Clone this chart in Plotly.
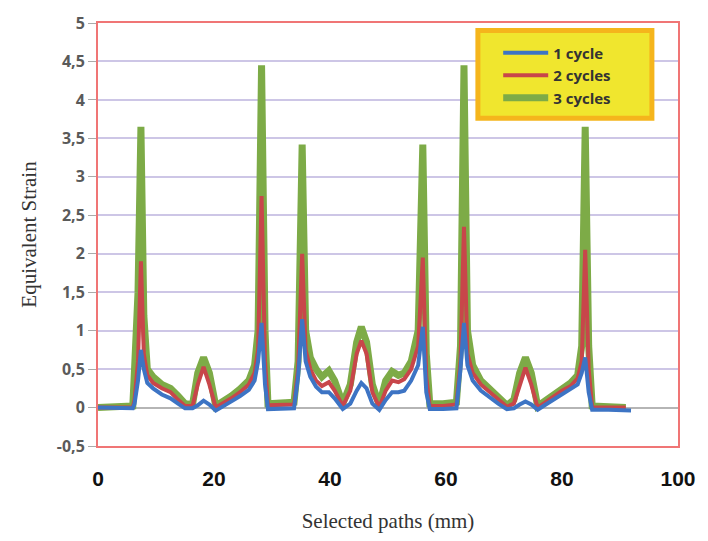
import plotly.graph_objects as go

# path position (mm)
x = [0.0, 5.6, 6.0, 6.3, 6.9, 7.4, 7.9, 8.5, 9.5, 11.0, 12.5, 13.8, 15.0, 16.3,
     17.2, 18.2, 19.2, 20.3, 21.5, 23.0, 24.5, 26.0, 27.0, 27.6, 28.2, 28.8,
     29.3, 31.5, 33.8, 34.5, 35.2, 35.8, 36.6, 37.6, 38.6, 39.8, 40.8, 42.2,
     43.5, 44.6, 45.4, 46.3, 47.3, 48.5, 49.6, 50.7, 51.8, 52.8, 54.0, 55.2,
     56.0, 56.6, 57.2, 59.5, 61.8, 62.5, 63.1, 63.7, 64.6, 66.0, 67.5, 69.0,
     70.5, 71.7, 72.7, 73.7, 74.7, 75.8, 77.0, 78.5, 80.0, 81.5, 82.7, 83.4,
     84.0, 84.6, 85.2, 88.0, 91.0, 91.9]

cycle3 = [0.0, 0.0, 0.02, 0.5, 1.5, 3.65, 1.2, 0.5, 0.4, 0.3, 0.25, 0.15, 0.05, 0.04,
          0.45, 0.65, 0.45, 0.02, 0.07, 0.15, 0.24, 0.35, 0.55, 1.0, 4.45, 1.0,
          0.05, 0.05, 0.07, 0.6, 3.42, 1.0, 0.65, 0.5, 0.4, 0.48, 0.35, 0.05,
          0.3, 0.85, 1.05, 0.85, 0.3, 0.03, 0.35, 0.47, 0.42, 0.45, 0.6, 1.0,
          3.42, 0.7, 0.05, 0.05, 0.07, 0.8, 4.45, 1.0, 0.55, 0.35, 0.25, 0.15,
          0.03, 0.1, 0.45, 0.65, 0.45, 0.02, 0.08, 0.17, 0.25, 0.32, 0.42, 0.8,
          3.65, 0.8, 0.02, 0.0, 0.0, None]

cycle2 = [0.0, 0.0, 0.0, 0.1, 0.6, 1.9, 0.7, 0.42, 0.32, 0.25, 0.2, 0.1, 0.02, 0.02,
          0.3, 0.53, 0.3, 0.0, 0.05, 0.12, 0.2, 0.3, 0.45, 0.75, 2.75, 0.6,
          0.03, 0.03, 0.04, 0.5, 2.0, 0.75, 0.5, 0.35, 0.28, 0.33, 0.22, 0.02,
          0.22, 0.7, 0.87, 0.7, 0.2, 0.0, 0.22, 0.35, 0.33, 0.37, 0.5, 0.8,
          1.95, 0.4, 0.02, 0.02, 0.04, 0.6, 2.35, 0.7, 0.45, 0.3, 0.2, 0.1,
          0.01, 0.05, 0.3, 0.52, 0.3, 0.0, 0.06, 0.14, 0.22, 0.28, 0.38, 0.6,
          2.05, 0.5, 0.0, 0.0, 0.0, None]

cycle1 = [0.0, -0.01, -0.01, 0.05, 0.35, 0.75, 0.5, 0.32, 0.25, 0.17, 0.12, 0.05, -0.01, -0.01,
          0.03, 0.09, 0.04, -0.04, 0.02, 0.08, 0.15, 0.23, 0.35, 0.6, 1.1, 0.3,
          -0.02, -0.02, -0.01, 0.4, 1.15, 0.6, 0.4, 0.27, 0.2, 0.2, 0.12, -0.02,
          0.05, 0.22, 0.32, 0.25, 0.05, -0.03, 0.1, 0.2, 0.2, 0.22, 0.35, 0.55,
          1.05, 0.2, -0.02, -0.02, -0.01, 0.5, 1.1, 0.55, 0.35, 0.22, 0.13, 0.05,
          -0.02, -0.01, 0.04, 0.08, 0.04, -0.03, 0.03, 0.1, 0.17, 0.23, 0.3, 0.45,
          0.65, 0.2, -0.03, -0.03, -0.04, -0.04]

y_tickvals = [-0.5, 0, 0.5, 1, 1.5, 2, 2.5, 3, 3.5, 4, 4.5, 5]
y_ticktext = ["-0,5", "0", "0,5", "1", "1,5", "2", "2,5", "3", "3,5", "4", "4,5", "5"]
x_tickvals = [0, 20, 40, 60, 80, 100]
x_ticktext = ["0", "20", "40", "60", "80", "100"]

fig = go.Figure()
fig.add_trace(go.Scatter(x=x, y=cycle3, mode="lines", name="3 cycles",
                         line=dict(color="#7dab47", width=7)))
fig.add_trace(go.Scatter(x=x, y=cycle2, mode="lines", name="2 cycles",
                         line=dict(color="#c8464a", width=4)))
fig.add_trace(go.Scatter(x=x, y=cycle1, mode="lines", name="1 cycle",
                         line=dict(color="#3d74c4", width=4)))

fig.update_layout(
    width=708, height=541,
    margin=dict(l=98, r=28, t=18, b=95),
    paper_bgcolor="white", plot_bgcolor="white",
    showlegend=True,
    legend=dict(x=0.69, y=0.968, xanchor="left", yanchor="top",
                bgcolor="rgba(0,0,0,0)", borderwidth=0,
                traceorder="reversed", itemwidth=45,
                font=dict(family="Open Sans", size=15, color="#333333", weight="bold"),
                tracegroupgap=0),
    shapes=[dict(type="rect", xref="paper", yref="paper",
                 x0=0.655, x1=0.955, y0=0.775, y1=0.982,
                 fillcolor="#f0e62e", line=dict(color="#f5b51c", width=5),
                 layer="above")],
    xaxis=dict(range=[0, 100], tickvals=x_tickvals, ticktext=x_ticktext,
               showgrid=False, zeroline=False,
               showline=True, mirror=True, linecolor="#f07575", linewidth=2,
               ticks="", ticklabelstandoff=13,
               tickfont=dict(family="Liberation Sans", size=21, color="#111111", weight="bold"),
               title=dict(text="Selected paths (mm)", standoff=24,
                          font=dict(family="Liberation Serif", size=21, color="#333333"))),
    yaxis=dict(range=[-0.5, 5], tickvals=y_tickvals, ticktext=y_ticktext,
               showgrid=True, gridcolor="#cdc6e6", gridwidth=1.5,
               zeroline=True, zerolinecolor="#b5b5b5", zerolinewidth=1.5,
               showline=True, mirror=True, linecolor="#f07575", linewidth=2,
               ticks="outside", ticklen=8, tickcolor="#aaaaaa",
               tickfont=dict(family="Open Sans", size=16, color="#5a5a5a", weight="bold"),
               title=dict(text="Equivalent Strain", standoff=14,
                          font=dict(family="Liberation Serif", size=21, color="#333333"))),
)

fig.write_html("out.html")
